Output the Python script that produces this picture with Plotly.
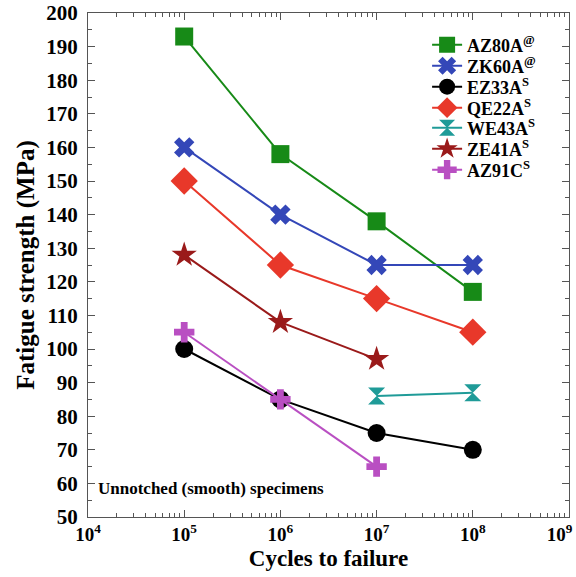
import plotly.graph_objects as go

cycles = [1e5, 1e6, 1e7, 1e8]

az80a = [193, 158, 138, 117]
zk60a = [160, 140, 125, 125]
ez33a = [100, 85, 75, 70]
qe22a = [150, 125, 115, 105]
we43a_x = [1e7, 1e8]
we43a = [86, 87]
ze41a_x = [1e5, 1e6, 1e7]
ze41a = [128, 108, 97]
az91c_x = [1e5, 1e6, 1e7]
az91c = [105, 85, 65]

x_tickvals = [1e4, 1e5, 1e6, 1e7, 1e8, 1e9]
x_ticktext = ["10<sup>4</sup>", "10<sup>5</sup>", "10<sup>6</sup>",
              "10<sup>7</sup>", "10<sup>8</sup>",
              "10<sup>9</sup>&nbsp;&nbsp;&nbsp;&nbsp;"]
y_tickvals = list(range(50, 201, 10))

SERIF = "Liberation Serif"

series = [
    ("AZ80A<sup>@</sup>", cycles, az80a, "#178a17", "square", 18),
    ("ZK60A<sup>@</sup>", cycles, zk60a, "#3447b8", "x", 18),
    ("EZ33A<sup>S</sup>", cycles, ez33a, "#000000", "circle", 18),
    ("QE22A<sup>S</sup>", cycles, qe22a, "#e8382a", "diamond", 21),
    ("WE43A<sup>S</sup>", we43a_x, we43a, "#1f9b98", "hourglass", 17),
    ("ZE41A<sup>S</sup>", ze41a_x, ze41a, "#9a1a1a", "star", 19),
    ("AZ91C<sup>S</sup>", az91c_x, az91c, "#b94fc2", "cross", 17),
]

# one legend box per entry so the rows can sit as tightly as in the reference
legend_centers_px = [45, 66, 87, 108, 128, 149, 170]
plot_top_px, plot_h_px = 13, 504

fig = go.Figure()
legend_layout = {}
for i, (name, xs, ys, color, sym, size) in enumerate(series):
    lname = "legend" if i == 0 else "legend%d" % (i + 1)
    fig.add_trace(go.Scatter(
        x=xs, y=ys, name=name, mode="lines+markers", legend=lname,
        line=dict(color=color, width=2),
        marker=dict(symbol=sym, size=size, color=color, line=dict(width=0)),
    ))
    legend_layout[lname] = dict(
        x=0.705, y=1 - (legend_centers_px[i] - plot_top_px) / plot_h_px,
        xanchor="left", yanchor="middle",
        font=dict(family=SERIF, size=18, color="black", weight="bold"),
        bgcolor="rgba(0,0,0,0)", borderwidth=0, itemwidth=30,
    )

fig.update_layout(
    width=576, height=577,
    margin=dict(l=88, r=7, t=13, b=60, autoexpand=False),
    paper_bgcolor="white", plot_bgcolor="white",
    font=dict(family=SERIF, weight="bold", color="black"),
    showlegend=True,
    annotations=[dict(
        text="Unnotched (smooth) specimens", xref="paper", yref="paper",
        x=0.017, y=0.056, xanchor="left", yanchor="middle", showarrow=False,
        font=dict(family=SERIF, size=17, color="black", weight="bold"),
    )],
    **legend_layout,
)

fig.update_xaxes(
    type="log", range=[4, 9], tickmode="array",
    tickvals=x_tickvals, ticktext=x_ticktext, automargin=False,
    ticklabeloverflow="allow",
    showgrid=False, zeroline=False,
    showline=True, linecolor="#555", linewidth=1, mirror="ticks",
    ticks="inside", ticklen=7, tickcolor="#555",
    minor=dict(ticks="inside", ticklen=4, dtick="D1", tickcolor="#555", showgrid=False),
    tickfont=dict(family=SERIF, size=19, color="black", weight="bold"),
    title=dict(text="Cycles to failure", standoff=6,
               font=dict(family=SERIF, size=23, color="black", weight="bold")),
)
fig.update_yaxes(
    range=[50, 200], tickmode="array", tickvals=y_tickvals, automargin=False,
    ticklabeloverflow="allow", ticklabelstandoff=5,
    showgrid=False, zeroline=False,
    showline=True, linecolor="#555", linewidth=1, mirror="ticks",
    ticks="inside", ticklen=7, tickcolor="#555",
    minor=dict(ticks="inside", ticklen=4, dtick=5, tickcolor="#555", showgrid=False),
    tickfont=dict(family=SERIF, size=21, color="black", weight="bold"),
    title=dict(text="Fatigue strength (MPa)", standoff=4,
               font=dict(family=SERIF, size=25, color="black", weight="bold")),
)

fig.write_html("out.html", config={"displayModeBar": False},
               post_script="document.body.style.margin='0px';")
